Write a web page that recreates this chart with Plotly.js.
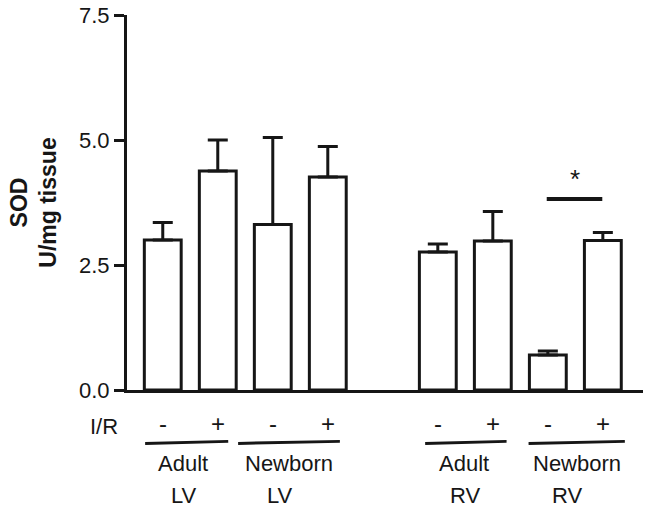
<!DOCTYPE html>
<html>
<head>
<meta charset="utf-8">
<script src="https://cdn.plot.ly/plotly-3.0.1.min.js"></script>
<style>
  html, body { margin: 0; padding: 0; background: #ffffff; }
  #chart { width: 651px; height: 510px; }
</style>
</head>
<body>
<div id="chart"></div>
<script>
// ---- Data ----
const positions = [0, 1, 2, 3, 5, 6, 7, 8];
const ischemia = ['-', '+', '-', '+', '-', '+', '-', '+'];
const sodMeans = [3.00, 4.38, 3.31, 4.26, 2.76, 2.98, 0.70, 2.99];
const sodErrors = [0.35, 0.62, 1.74, 0.61, 0.16, 0.59, 0.08, 0.16];
const groupTop = ['Adult', 'Newborn', 'Adult', 'Newborn'];
const groupBottom = ['LV', 'LV', 'RV', 'RV'];
const yTickVals = [0, 2.5, 5.0, 7.5];
const yTickText = ['0.0', '2.5', '5.0', '7.5'];
const rowLabel = 'I/R';
const yTitle = 'SOD<br>U/mg tissue';
const sigPair = [7, 8];
const sigMark = '*';

// ---- Layout placement (not data) ----
const ink = '#161616';
const font = 'Liberation Sans, Arial, Helvetica, sans-serif';
const groupTopX = [0.37, 2.30, 5.47, 7.53];
const groupBottomX = [0.39, 2.13, 5.49, 7.35];
const underlineX = [[-0.32, 1.19], [1.37, 3.22], [4.77, 6.25], [6.65, 8.40]];

const trace = {
  type: 'bar',
  x: positions,
  y: sodMeans,
  width: 0.67,
  marker: { color: '#ffffff', line: { color: ink, width: 3 } },
  error_y: {
    type: 'data', symmetric: false,
    array: sodErrors,
    arrayminus: sodErrors.map(() => 0),
    color: ink, thickness: 3, width: 10
  },
  hoverinfo: 'x+y'
};

const annotations = [];
positions.forEach((p, i) => {
  annotations.push({
    x: p, xref: 'x', y: -0.09, yref: 'paper',
    text: ischemia[i], showarrow: false,
    xanchor: 'center', yanchor: 'middle',
    font: { family: font, size: 24, color: ink }
  });
});
annotations.push({
  x: -0.045, xref: 'paper', y: -0.098, yref: 'paper',
  text: rowLabel, showarrow: false, xanchor: 'center', yanchor: 'middle',
  font: { family: font, size: 22, color: ink }
});
groupTop.forEach((g, i) => {
  annotations.push({
    x: groupTopX[i], xref: 'x', y: -0.197, yref: 'paper',
    text: g, showarrow: false, xanchor: 'center', yanchor: 'middle',
    font: { family: font, size: 22, color: ink }
  });
  annotations.push({
    x: groupBottomX[i], xref: 'x', y: -0.28, yref: 'paper',
    text: groupBottom[i], showarrow: false, xanchor: 'center', yanchor: 'middle',
    font: { family: font, size: 22, color: ink }
  });
});
annotations.push({
  x: (sigPair[0] + sigPair[1]) / 2, xref: 'x', y: 4.22, yref: 'y',
  text: sigMark, showarrow: false, xanchor: 'center', yanchor: 'middle',
  font: { family: font, size: 26, color: ink }
});

const shapes = underlineX.map(([a, b]) => ({
  type: 'line', xref: 'x', yref: 'paper',
  x0: a, x1: b, y0: -0.1425, y1: -0.137,
  line: { color: ink, width: 3 }
}));
shapes.push({
  type: 'line', xref: 'x', yref: 'y',
  x0: sigPair[0] - 0.02, x1: sigPair[1] - 0.01, y0: 3.82, y1: 3.82,
  line: { color: ink, width: 4 }
});

const layout = {
  width: 651, height: 510,
  margin: { l: 127, r: 8, t: 15, b: 120, pad: 0 },
  paper_bgcolor: '#ffffff', plot_bgcolor: '#ffffff',
  showlegend: false,
  font: { family: font, color: ink },
  xaxis: {
    range: [-0.65, 8.73],
    showline: true, linewidth: 3, linecolor: ink,
    showticklabels: false, ticks: '', showgrid: false, zeroline: false,
    fixedrange: true
  },
  yaxis: {
    range: [0, 7.5],
    tickvals: yTickVals, ticktext: yTickText,
    ticks: 'outside', ticklen: 10, tickwidth: 3, tickcolor: ink,
    showline: true, linewidth: 3, linecolor: ink,
    showgrid: false, zeroline: false,
    tickfont: { family: font, size: 22, color: ink },
    title: { text: '<b>' + yTitle.replace('<br>', '</b><br><b>') + '</b>', font: { family: font, size: 23, color: ink }, standoff: 16 },
    automargin: false,
    fixedrange: true
  },
  annotations: annotations,
  shapes: shapes
};

Plotly.newPlot('chart', [trace], layout, { displayModeBar: false, staticPlot: true });
</script>
</body>
</html>
